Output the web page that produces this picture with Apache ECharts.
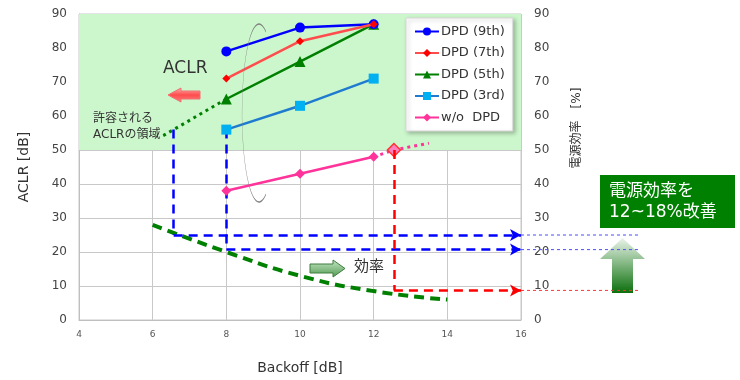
<!DOCTYPE html>
<html>
<head>
<meta charset="utf-8">
<script src="https://cdn.jsdelivr.net/npm/echarts@6/dist/echarts.min.js"></script>
<style>
  html, body { margin: 0; padding: 0; background: #fff; }
  #main { width: 740px; height: 380px; }
</style>
</head>
<body>
<div id="main"></div>
<script>
var FONT = 'DejaVu Sans, Noto Sans CJK JP, sans-serif';

// ACLR (left axis) vs backoff
var backoff = [8, 10, 12];
var dpd9 = [79, 86, 87];
var dpd7 = [71, 82, 87];
var dpd5 = [65, 76, 87];
var dpd3 = [56, 63, 71];
var woDpd = [38, 43, 48];

// dotted extensions
var woExtX = [12, 12.55, 13.5];
var woExtY = [48, 50, 52];
var allowX = [8, 6.25];
var allowY = [65, 54];

// power efficiency (right axis)
var effX = [6, 8, 10, 12, 14];
var effY = [28, 20, 13, 8.5, 6];

// read-off guide lines: [x at ACLR, ACLR, efficiency]
var guideBlueA = [6.57, 56, 25];
var guideBlueB = [8, 56, 20.7];
var guideRed = [12.55, 50, 8.7];

var legendNames = ['DPD (9th)', 'DPD (7th)', 'DPD (5th)', 'DPD (3rd)', 'w/o  DPD'];

function pairs(xs, ys) {
  return xs.map(function (x, i) { return [x, ys[i]]; });
}

var chart = echarts.init(document.getElementById('main'));

function guideSeg(g, color) {
  var ls = { color: color, width: 2.5, type: [9, 6] };
  return [
    [{ coord: [g[0], g[1]], symbol: 'none', lineStyle: ls }, { coord: [g[0], g[2]], symbol: 'none' }],
    [{ coord: [g[0], g[2]], symbol: 'none', lineStyle: ls }, { coord: [16, g[2]], symbol: 'arrow', symbolSize: [9, 11] }]
  ];
}

var option = {
  animation: false,
  textStyle: { fontFamily: FONT },
  grid: { left: 79, right: 219, top: 14, bottom: 57, show: true, borderColor: '#c8c8c8', borderWidth: 1 },
  legend: {
    data: legendNames,
    orient: 'vertical',
    left: 406, top: 18,
    padding: [7, 8, 7, 8],
    itemGap: 8.5,
    itemWidth: 24, itemHeight: 10,
    backgroundColor: '#fff',
    borderColor: '#d8d8d8', borderWidth: 1,
    shadowColor: 'rgba(0,0,0,0.25)', shadowBlur: 4, shadowOffsetX: 2, shadowOffsetY: 2,
    textStyle: { fontSize: 13, color: '#333', fontFamily: FONT, padding: [0, 0, 0, -3] }
  },
  xAxis: {
    type: 'value', min: 4, max: 16, interval: 2,
    name: 'Backoff [dB]', nameLocation: 'middle', nameGap: 41,
    nameTextStyle: { fontSize: 14, color: '#333' },
    axisLine: { lineStyle: { color: '#bfbfbf' } },
    axisTick: { show: false },
    axisLabel: { fontSize: 9, color: '#555', margin: 10 },
    splitLine: { lineStyle: { color: '#c8c8c8' } }
  },
  yAxis: [{
    type: 'value', min: 0, max: 90, interval: 10,
    name: 'ACLR [dB]', nameLocation: 'middle', nameGap: 48, nameRotate: 90,
    nameTextStyle: { fontSize: 14, color: '#333' },
    axisLine: { show: true, lineStyle: { color: '#bfbfbf' } },
    axisTick: { show: false },
    axisLabel: { fontSize: 12, color: '#444', margin: 12 },
    splitLine: { lineStyle: { color: '#c8c8c8' } }
  }, {
    type: 'value', min: 0, max: 90, interval: 10, position: 'right',
    axisLine: { show: false },
    axisTick: { show: false },
    axisLabel: { fontSize: 12, color: '#444', margin: 13 },
    splitLine: { show: false }
  }],
  series: [
    {
      name: 'band', type: 'line', data: [], silent: true,
      markArea: {
        silent: true,
        itemStyle: { color: '#ccf7cc' },
        data: [[{ coord: [4, 50] }, { coord: [16, 90] }]]
      }
    },
    {
      name: 'eff', type: 'line', yAxisIndex: 1, smooth: true, showSymbol: false, silent: true,
      data: pairs(effX, effY),
      lineStyle: { color: '#008000', width: 4, type: [10, 6] },
      markLine: {
        silent: true, animation: false,
        label: { show: false },
        data: guideSeg(guideBlueA, '#0000ff').concat(guideSeg(guideBlueB, '#0000ff'), guideSeg(guideRed, '#ff0000'))
      },
      z: 3
    },
    {
      name: 'allow', type: 'line', showSymbol: false, silent: true,
      data: pairs(allowX, allowY),
      lineStyle: { color: '#008000', width: 3, type: [3, 4] }
    },
    {
      name: 'woExt', type: 'line', silent: true,
      data: pairs(woExtX, woExtY).map(function (p, i) {
        return i === 1 ? { value: p, symbol: 'diamond', symbolSize: 13 } : { value: p, symbol: 'none' };
      }),
      lineStyle: { color: '#ff3399', width: 3, type: [3, 4] },
      itemStyle: { color: '#ff80bf', borderColor: '#ff3333', borderWidth: 1.5 },
      z: 4
    },
    {
      name: legendNames[4], type: 'line', data: pairs(backoff, woDpd),
      symbol: 'diamond', symbolSize: 10,
      lineStyle: { color: '#ff3399', width: 2.5 }, itemStyle: { color: '#ff3399' }, z: 5
    },
    {
      name: legendNames[3], type: 'line', data: pairs(backoff, dpd3),
      symbol: 'rect', symbolSize: 10,
      lineStyle: { color: '#1e7bd0', width: 2.5 }, itemStyle: { color: '#00b0f0' }, z: 5
    },
    {
      name: legendNames[2], type: 'line', data: pairs(backoff, dpd5),
      symbol: 'triangle', symbolSize: 11,
      lineStyle: { color: '#008000', width: 2.5 }, itemStyle: { color: '#008000' }, z: 5
    },
    {
      name: legendNames[1], type: 'line', data: pairs(backoff, dpd7),
      symbol: 'diamond', symbolSize: 8,
      lineStyle: { color: '#ff4d4d', width: 2.5 }, itemStyle: { color: '#ff0000' }, z: 6
    },
    {
      name: legendNames[0], type: 'line', data: pairs(backoff, dpd9),
      symbol: 'circle', symbolSize: 10,
      lineStyle: { color: '#0000ff', width: 2.5 }, itemStyle: { color: '#0000ff' }, z: 5
    }
  ]
};

chart.setOption(option);

// decorations: dotted continuation past the right axis, arrows, notes
var xEnd = chart.convertToPixel({ xAxisIndex: 0 }, 16);
function yPix(v) { return chart.convertToPixel({ yAxisIndex: 1 }, v); }
function thinDot(v, color) {
  return {
    type: 'line', silent: true,
    shape: { x1: xEnd, y1: yPix(v), x2: 638, y2: yPix(v) },
    style: { stroke: color, lineWidth: 1, lineDash: [3, 3] }, z: 10
  };
}

var graphics = [
  thinDot(guideBlueA[2], '#4d4dff'),
  thinDot(guideBlueB[2], '#4d4dff'),
  thinDot(guideRed[2], '#ff3333'),
  {
    // right axis title
    type: 'text', silent: true, x: 577, y: 128, rotation: Math.PI / 2,
    style: { text: '電源効率　[%]', fontSize: 12, fontFamily: FONT, fill: '#333', align: 'center', verticalAlign: 'middle' }
  },
  {
    type: 'arc', silent: true, x: 259, y: 113, scaleX: 17 / 89,
    shape: { cx: 0, cy: 0, r: 89, startAngle: 1.15, endAngle: 2 * Math.PI - 1.15, clockwise: true },
    style: { stroke: '#808080', lineWidth: 1.5, fill: null, strokeNoScale: true }, z: 10
  },
  {
    type: 'text', silent: true, x: 163, y: 60,
    style: { text: 'ACLR', fontSize: 17, fontFamily: FONT, fill: '#333' }, z: 10
  },
  {
    type: 'polygon', silent: true,
    shape: { points: [[168, 95], [181, 88], [181, 91], [200, 91], [200, 99], [181, 99], [181, 102]] },
    style: {
      fill: new echarts.graphic.LinearGradient(0, 0, 0, 1, [
        { offset: 0, color: '#ffb3b3' }, { offset: 0.5, color: '#ff4d4d' }, { offset: 1, color: '#ff8080' }
      ]),
      stroke: '#f07070', lineWidth: 1
    }, z: 10
  },
  {
    type: 'text', silent: true, x: 91, y: 110,
    style: {
      text: '許容される\nACLRの領域', fontSize: 12, lineHeight: 16, fontFamily: FONT, fill: '#333',
      backgroundColor: '#ccf7cc', padding: [1, 2, 1, 2]
    }, z: 9
  },
  {
    type: 'polygon', silent: true,
    shape: { points: [[310, 264], [333, 264], [333, 260], [345, 268.5], [333, 277], [333, 273], [310, 273]] },
    style: {
      fill: new echarts.graphic.LinearGradient(0, 0, 0, 1, [
        { offset: 0, color: '#c8e6c8' }, { offset: 1, color: '#4f9a4f' }
      ]),
      stroke: '#3d7d3d', lineWidth: 1
    }, z: 10
  },
  {
    type: 'text', silent: true, x: 354, y: 260,
    style: { text: '効率', fontSize: 15, fontFamily: FONT, fill: '#333' }, z: 10
  },
  {
    type: 'rect', silent: true,
    shape: { x: 600, y: 175, width: 135, height: 53 },
    style: { fill: '#008000' }, z: 10
  },
  {
    type: 'text', silent: true, x: 609, y: 181,
    style: { text: '電源効率を\n12~18%改善', fontSize: 17, lineHeight: 21, fontFamily: FONT, fill: '#fff' }, z: 11
  },
  {
    type: 'polygon', silent: true,
    shape: { points: [[622.5, 238], [645, 259], [633, 259], [633, 293], [612, 293], [612, 259], [600, 259]] },
    style: {
      fill: new echarts.graphic.LinearGradient(0, 0, 0, 1, [
        { offset: 0, color: '#eaf4ea' }, { offset: 1, color: '#0c700c' }
      ])
    }, z: 9
  }
];

chart.setOption({ graphic: graphics });
</script>
</body>
</html>
